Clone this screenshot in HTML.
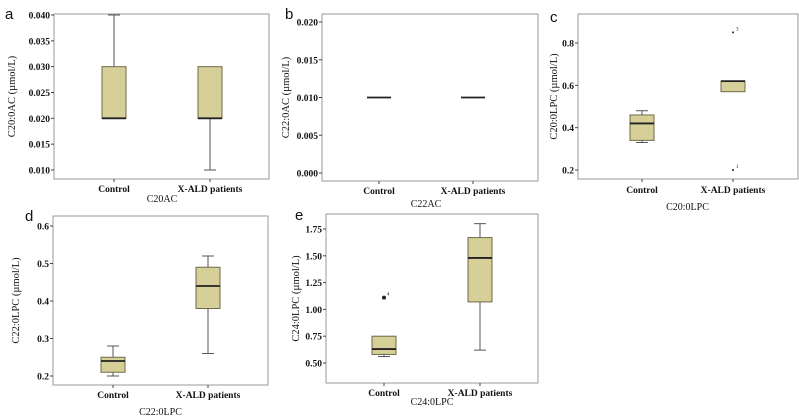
<!DOCTYPE html>
<html><head><meta charset="utf-8"><style>
html,body{margin:0;padding:0;background:#fff;width:799px;height:420px;overflow:hidden}
svg text{font-family:"Liberation Serif",serif;fill:#111}
</style></head><body>
<svg id="s" width="799" height="420"></svg>
<script>
const categories=["Control","X-ALD patients"];
// per panel box stats: [min,q1,median,q3,max]
const aStats=[[0.020,0.020,0.020,0.030,0.040],[0.010,0.020,0.020,0.030,0.030]];
const bStats=[[0.010,0.010,0.010,0.010,0.010],[0.010,0.010,0.010,0.010,0.010]];
const cStats=[[0.33,0.34,0.42,0.46,0.48],[0.57,0.57,0.62,0.62,0.62]];
const dStats=[[0.20,0.21,0.24,0.25,0.28],[0.26,0.38,0.44,0.49,0.52]];
const eStats=[[0.56,0.58,0.63,0.75,0.75],[0.62,1.07,1.48,1.67,1.80]];
const cOutliers=[[1,0.85,"3"],[1,0.20,"1"]];
const eOutliers=[[0,1.11,"4"]];
const aTicks=[0.010,0.015,0.020,0.025,0.030,0.035,0.040];
const bTicks=[0.000,0.005,0.010,0.015,0.020];
const cTicks=[0.2,0.4,0.6,0.8];
const dTicks=[0.2,0.3,0.4,0.5,0.6];
const eTicks=[0.50,0.75,1.00,1.25,1.50,1.75];

const NS="http://www.w3.org/2000/svg";
const svg=document.getElementById('s');
function mk(tag,attrs,text){const e=document.createElementNS(NS,tag);for(const k in attrs)e.setAttribute(k,attrs[k]);if(text!=null)e.textContent=text;svg.appendChild(e);return e;}

const panels=[
 {id:'a',stats:aStats,ticks:aTicks,dec:3,out:[],L:54,T:14,R:269,B:179,t0:[0.040,15],t1:[0.010,170],cx:[114,210],lab:[5,19],yt:'C20:0AC (µmol/L)',ytx:11,xt:'C20AC',xty:202,cy:192},
 {id:'b',stats:bStats,ticks:bTicks,dec:3,out:[],L:322,T:14,R:538,B:181,t0:[0.020,22],t1:[0.000,173],cx:[379,473],lab:[285,19],yt:'C22:0AC (µmol/L)',ytx:285,xt:'C22AC',xty:207,cy:194},
 {id:'c',stats:cStats,ticks:cTicks,dec:1,out:cOutliers,L:578,T:14,R:798,B:179,t0:[0.8,43],t1:[0.2,170],cx:[642,733],lab:[550,22],yt:'C20:0LPC (µmol/L)',ytx:553,xt:'C20:0LPC',xty:210,cy:193},
 {id:'d',stats:dStats,ticks:dTicks,dec:1,out:[],L:53,T:216,R:268,B:385,t0:[0.6,226],t1:[0.2,376],cx:[113,208],lab:[25,221],yt:'C22:0LPC (µmol/L)',ytx:15,xt:'C22:0LPC',xty:415,cy:398},
 {id:'e',stats:eStats,ticks:eTicks,dec:2,out:eOutliers,L:326,T:214,R:538,B:383,t0:[1.75,229],t1:[0.50,363],cx:[384,480],lab:[295,220],yt:'C24:0LPC (µmol/L)',ytx:295,xt:'C24:0LPC',xty:405,cy:396}
];
for(const p of panels){
  const y=v=>p.t0[1]+(v-p.t0[0])*(p.t1[1]-p.t0[1])/(p.t1[0]-p.t0[0]);
  let e;
  e=mk('text',{x:p.lab[0],y:p.lab[1],'font-size':15,style:'font-family:"Liberation Sans",sans-serif'},p.id);
  
  e=mk('rect',{x:p.L,y:p.T,width:p.R-p.L,height:p.B-p.T,fill:'#fff',stroke:'#9a9a9a','stroke-width':1});
  
  for(const t of p.ticks){
    const yy=y(t);
    e=mk('line',{x1:p.L-3,x2:p.L,y1:yy,y2:yy,stroke:'#444'});
    
    e=mk('text',{x:p.L-4,y:yy+3.5,'font-size':9.5,'font-weight':'bold','text-anchor':'end'},t.toFixed(p.dec));
    
  }
  e=mk('text',{transform:`translate(${p.ytx+4},${(p.T+p.B)/2}) rotate(-90)`,'font-size':10.5,'text-anchor':'middle'},p.yt);
  
  categories.forEach((c,i)=>{
    const x=p.cx[i];
    e=mk('line',{x1:x,x2:x,y1:p.B,y2:p.B+3,stroke:'#444'});
    
    e=mk('text',{x:x,y:p.cy,'font-size':9.5,'font-weight':'bold','text-anchor':'middle'},c);
    
    const s=p.stats[i];const w=24;
    if(s[4]>s[3]){e=mk('line',{x1:x,x2:x,y1:y(s[4]),y2:y(s[3]),stroke:'#555'});
      e=mk('line',{x1:x-6,x2:x+6,y1:y(s[4]),y2:y(s[4]),stroke:'#555'});}
    if(s[0]<s[1]){e=mk('line',{x1:x,x2:x,y1:y(s[1]),y2:y(s[0]),stroke:'#555'});
      e=mk('line',{x1:x-6,x2:x+6,y1:y(s[0]),y2:y(s[0]),stroke:'#555'});}
    if(s[3]>s[1]){e=mk('rect',{x:x-w/2,y:y(s[3]),width:w,height:y(s[1])-y(s[3]),fill:'#d6cf97',stroke:'#6e6a4a','stroke-width':1});
      }
    e=mk('line',{x1:x-w/2,x2:x+w/2,y1:y(s[2]),y2:y(s[2]),stroke:'#222','stroke-width':1.8});
    
  });
  for(const o of p.out){
    const x=p.cx[o[0]],yy=y(o[1]);
    e=mk('circle',{cx:x,cy:yy,r:p.id==='e'?2:1,fill:'#222'});
    
    e=mk('text',{x:x+3,y:yy-2,'font-size':5},o[2]);
    
  }
  e=mk('text',{x:(p.cx[0]+p.cx[1])/2,y:p.xty,'font-size':10,'text-anchor':'middle'},p.xt);
  
}
</script>
</body></html>
